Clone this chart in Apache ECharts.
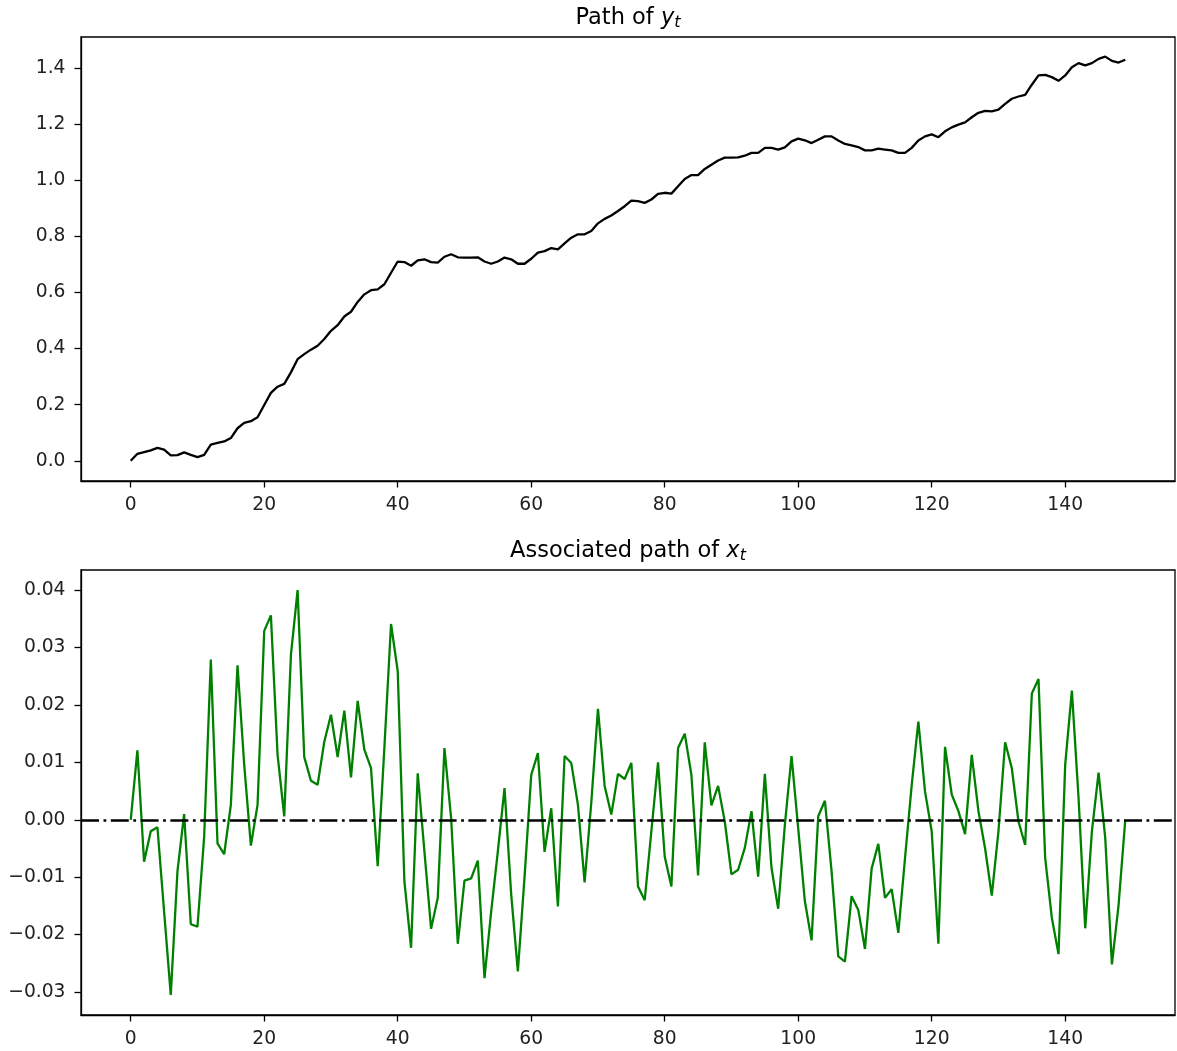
<!DOCTYPE html>
<html><head><meta charset="utf-8">
<script src="https://cdn.jsdelivr.net/npm/echarts@6/dist/echarts.min.js"></script>
<style>html,body{margin:0;padding:0;background:#fff}#c{width:1177px;height:1051px}</style>
</head><body><div id="c"></div>
<script>
// Path of y_t (t = 0..149)
const yPath = [
 0.000,0.025,0.031,0.037,0.046,0.040,0.019,0.020,0.030,0.021,
 0.013,0.021,0.058,0.064,0.069,0.081,0.116,0.135,0.141,0.155,
 0.199,0.242,0.264,0.274,0.315,0.362,0.380,0.396,0.410,0.434,
 0.463,0.483,0.514,0.531,0.566,0.593,0.608,0.611,0.629,0.670,
 0.710,0.708,0.695,0.714,0.718,0.708,0.706,0.727,0.736,0.725,
 0.724,0.724,0.725,0.710,0.702,0.710,0.724,0.718,0.702,0.702,
 0.720,0.742,0.747,0.758,0.753,0.775,0.795,0.807,0.807,0.819,
 0.846,0.862,0.874,0.890,0.907,0.927,0.925,0.919,0.931,0.951,
 0.955,0.952,0.978,1.004,1.018,1.018,1.040,1.055,1.070,1.080,
 1.080,1.081,1.087,1.097,1.097,1.115,1.115,1.109,1.117,1.138,
 1.148,1.142,1.132,1.144,1.156,1.156,1.141,1.129,1.124,1.118,
 1.106,1.106,1.112,1.109,1.106,1.097,1.097,1.115,1.141,1.156,
 1.163,1.153,1.174,1.188,1.198,1.206,1.224,1.240,1.247,1.245,
 1.251,1.272,1.290,1.298,1.304,1.340,1.373,1.375,1.367,1.354,
 1.373,1.402,1.417,1.409,1.417,1.432,1.440,1.425,1.419,1.429
];
// Associated path of x_t (t = 0..149)
const xPath = [
 0.0000,0.0121,-0.0073,-0.0020,-0.0013,-0.0160,-0.0305,-0.0090,0.0010,-0.0182,
 -0.0186,-0.0030,0.0279,-0.0041,-0.0060,0.0026,0.0269,0.0096,-0.0045,0.0026,
 0.0329,0.0356,0.0113,0.0006,0.0287,0.0400,0.0109,0.0068,0.0061,0.0136,
 0.0183,0.0109,0.0190,0.0074,0.0207,0.0122,0.0090,-0.0081,0.0125,0.0341,
 0.0259,-0.0107,-0.0223,0.0081,-0.0055,-0.0190,-0.0136,0.0125,0.0003,-0.0216,
 -0.0106,-0.0102,-0.0071,-0.0276,-0.0160,-0.0055,0.0055,-0.0130,-0.0264,-0.0100,
 0.0078,0.0116,-0.0056,0.0020,-0.0151,0.0111,0.0099,0.0026,-0.0109,0.0030,
 0.0193,0.0059,0.0009,0.0080,0.0071,0.0099,-0.0116,-0.0140,-0.0020,0.0100,
 -0.0064,-0.0116,0.0125,0.0150,0.0078,-0.0097,0.0135,0.0025,0.0059,-0.0003,
 -0.0095,-0.0087,-0.0049,0.0015,-0.0099,0.0080,-0.0084,-0.0155,-0.0009,0.0111,
 -0.0015,-0.0142,-0.0210,0.0006,0.0033,-0.0090,-0.0238,-0.0247,-0.0133,-0.0157,
 -0.0225,-0.0085,-0.0042,-0.0136,-0.0121,-0.0197,-0.0067,0.0060,0.0171,0.0049,
 -0.0020,-0.0216,0.0127,0.0044,0.0015,-0.0025,0.0113,0.0015,-0.0050,-0.0132,
 -0.0020,0.0135,0.0090,-0.0003,-0.0044,0.0220,0.0245,-0.0067,-0.0171,-0.0234,
 0.0096,0.0225,0.0038,-0.0189,-0.0020,0.0082,-0.0032,-0.0252,-0.0148,0.0000
];
const xTicks = [0,20,40,60,80,100,120,140];
const yTicksTop = [0,0.2,0.4,0.6,0.8,1.0,1.2,1.4];
const yTicksBottom = [-0.03,-0.02,-0.01,0,0.01,0.02,0.03,0.04];
const titleTop = ['Path of ', 'y', 't'];
const titleBottom = ['Associated path of ', 'x', 't'];

const FONT = 'DejaVu Sans';
const TXT = '#222';
const fmt = (v, d) => (v < 0 ? '\u2212' : '') + Math.abs(v).toFixed(d);

function xAxisCfg(gi) {
  return {
    type: 'value', gridIndex: gi, min: -7.45, max: 156.45,
    axisLine: {show: true, onZero: false, lineStyle: {color: '#000', width: 1.3}},
    axisTick: {show: true, customValues: xTicks, length: 6.5, lineStyle: {color: '#000', width: 1.3}},
    axisLabel: {customValues: xTicks, margin: 15, color: TXT, fontSize: 18.7, fontFamily: FONT},
    splitLine: {show: false}
  };
}
function yAxisCfg(gi, min, max, ticks, d) {
  return {
    type: 'value', gridIndex: gi, min: min, max: max,
    axisLine: {show: true, onZero: false, lineStyle: {color: '#000', width: 1.3}},
    axisTick: {show: true, customValues: ticks, length: 6.5, lineStyle: {color: '#000', width: 1.3}},
    axisLabel: {customValues: ticks, margin: 15.5, color: TXT, fontSize: 18.7, fontFamily: FONT,
      formatter: v => fmt(v, d)},
    splitLine: {show: false}
  };
}
const rich = {
  a: {fontSize: 22.5, fontFamily: FONT, color: TXT, lineHeight: 26},
  b: {fontSize: 22.5, fontFamily: FONT, fontStyle: 'italic', color: TXT, lineHeight: 26},
  c: {fontSize: 16, fontFamily: FONT, fontStyle: 'italic', color: TXT, lineHeight: 15, verticalAlign: 'bottom'}
};
function titleText(p) { return '{a|' + p[0] + '}{b|' + p[1] + '}{c|' + p[2] + '}'; }

const chart = echarts.init(document.getElementById('c'), null, {renderer: 'canvas'});
chart.setOption({
  animation: false,
  backgroundColor: '#fff',
  graphic: [
    {type: 'text', x: 628, y: 18, style: {text: titleText(titleTop), rich: rich, align: 'center', verticalAlign: 'middle'}},
    {type: 'text', x: 628, y: 551, style: {text: titleText(titleBottom), rich: rich, align: 'center', verticalAlign: 'middle'}}
  ],
  grid: [
    {left: 81, top: 37, width: 1094, height: 444, show: true, borderColor: '#000', borderWidth: 1.3, backgroundColor: 'transparent'},
    {left: 81, top: 570, width: 1094, height: 445, show: true, borderColor: '#000', borderWidth: 1.3, backgroundColor: 'transparent'}
  ],
  xAxis: [xAxisCfg(0), xAxisCfg(1)],
  yAxis: [
    yAxisCfg(0, -0.072, 1.51, yTicksTop, 1),
    yAxisCfg(1, -0.034, 0.0435, yTicksBottom, 2)
  ],
  series: [
    {type: 'line', xAxisIndex: 0, yAxisIndex: 0, symbol: 'none', showSymbol: false,
     lineStyle: {color: '#000', width: 2.3}, data: yPath.map((v, i) => [i, v])},
    {type: 'line', xAxisIndex: 1, yAxisIndex: 1, symbol: 'none', showSymbol: false,
     lineStyle: {color: '#008000', width: 2.3}, data: xPath.map((v, i) => [i, v]),
     markLine: {silent: true, symbol: ['none', 'none'], label: {show: false},
       lineStyle: {color: '#000', width: 2.5, type: [18, 4.5, 2.8, 4.5]},
       data: [{yAxis: 0}]}}
  ]
});
</script></body></html>
